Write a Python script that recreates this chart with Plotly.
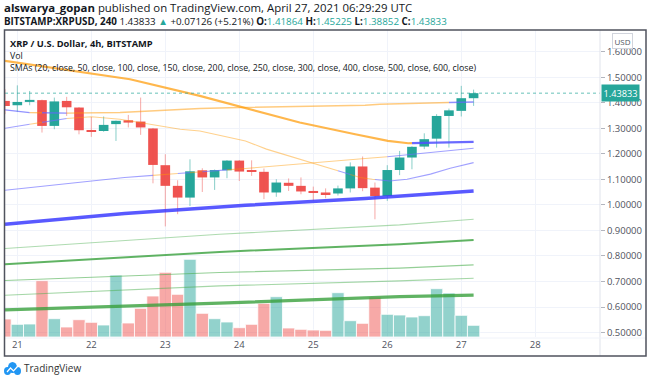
import numpy as np
import pandas as pd
import plotly.graph_objects as go

# ---------------- data ----------------
# candle index 0 = 2021-04-21 00:00; the first visible candle is index -1
index0_time = "2021-04-21 00:00"
candle_hours = 4
opens = [1.408, 1.391, 1.404, 1.411, 1.310, 1.408, 1.382, 1.294, 1.290, 1.317,
         1.332, 1.327, 1.300, 1.156, 1.075, 1.029, 1.136, 1.108, 1.136, 1.174,
         1.137, 1.130, 1.049, 1.087, 1.075, 1.055, 1.049, 1.045, 1.065, 1.151,
         1.068, 1.035, 1.137, 1.186, 1.229, 1.260, 1.349, 1.369, 1.41864]
highs = [1.454, 1.469, 1.447, 1.413, 1.421, 1.424, 1.384, 1.345, 1.347, 1.331,
         1.353, 1.421, 1.302, 1.199, 1.097, 1.179, 1.144, 1.139, 1.176, 1.176,
         1.175, 1.143, 1.101, 1.104, 1.108, 1.072, 1.065, 1.076, 1.167, 1.190,
         1.088, 1.156, 1.212, 1.230, 1.281, 1.356, 1.378, 1.467, 1.45225]
lows = [1.356, 1.365, 1.391, 1.284, 1.297, 1.349, 1.277, 1.267, 1.287, 1.251,
        1.304, 1.275, 1.085, 0.916, 0.964, 0.996, 1.051, 1.059, 1.105, 1.094,
        1.114, 1.023, 1.032, 1.055, 1.042, 1.016, 1.026, 1.037, 1.049, 1.054,
        0.944, 1.016, 1.117, 1.140, 1.219, 1.225, 1.225, 1.347, 1.38852]
closes = [1.388, 1.404, 1.412, 1.310, 1.406, 1.383, 1.293, 1.286, 1.314, 1.330,
          1.323, 1.304, 1.157, 1.075, 1.029, 1.132, 1.108, 1.137, 1.174, 1.131,
          1.130, 1.049, 1.088, 1.075, 1.053, 1.047, 1.043, 1.065, 1.151, 1.066,
          1.035, 1.137, 1.186, 1.228, 1.258, 1.349, 1.371, 1.41864, 1.43833]
volumes = [18.0, 12.7, 13.0, 56.3, 18.3, 10.0, 17.3, 14.7, 12.0, 62.0,
           14.0, 28.7, 41.0, 64.7, 42.7, 77.7, 23.7, 18.3, 15.0, 9.3,
           12.7, 33.7, 40.3, 9.0, 7.7, 7.0, 6.7, 44.3, 16.3, 13.7,
           40.0, 22.7, 22.0, 20.0, 21.3, 48.3, 44.0, 21.7, 11.7]

# SMA readings: positions in candle units (0 = Apr 21 00:00), values in USD,
# and runs where the close is above/below the average
sma20_pos = [-1, 4, 6, 8.33, 13.2, 14.8, 18.5, 20.2, 25.6, 27.8, 28.8, 30.2, 31.6, 33.5, 35.1, 37]
sma20_val = [1.301, 1.339, 1.346, 1.336, 1.297, 1.290, 1.251, 1.219, 1.140, 1.108, 1.101, 1.094, 1.101, 1.121, 1.144, 1.166]
sma20_runs = [(-1, 1, "above"), (1, 2, "below"), (2, 4, "above"), (4, 26, "below"),
              (26, 27, "above"), (27, 29, "below"), (29, 37, "above")]

sma50_pos = [-1, 9.14, 14.8, 22.9, 27.4, 30.05, 31.7, 37]
sma50_val = [1.5647, 1.493, 1.4275, 1.3232, 1.2774, 1.251, 1.242, 1.247]
sma50_runs = [(-1, 32, "below"), (32, 37, "above")]

sma100_pos = [-1, 1, 4, 8.33, 14.8, 18, 28.2, 29.4, 35, 37]
sma100_val = [1.373, 1.362, 1.360, 1.3624, 1.378, 1.382, 1.391, 1.395, 1.4016, 1.404]
sma100_runs = [(-1, 1, "above"), (1, 2, "below"), (2, 4, "above"), (4, 35, "below"), (35, 37, "above")]

sma150_pos = [-1, 8.7, 18.5, 28.2, 30.2, 37]
sma150_val = [1.058, 1.108, 1.143, 1.182, 1.190, 1.2225]
sma150_runs = [(-1, 11, "above"), (11, 13, "below"), (13, 14, "above"), (14, 15, "below"),
               (15, 17, "above"), (17, 30, "below"), (30, 37, "above")]

sma200_pos = [-1, 8.7, 18.5, 28.2, 37]
sma200_val = [0.9246, 0.9665, 0.999, 1.0253, 1.0551]

long_pos = [-1, 16.4, 31.0, 37]
sma250_val = [0.8293, 0.8854, 0.9218, 0.9442]
sma300_val = [0.7678, 0.8160, 0.8462, 0.8630]
sma400_val = [0.7039, 0.7352, 0.7521, 0.7650]
sma500_val = [0.6463, 0.6827, 0.7023, 0.7129]
sma600_val = [0.5886, 0.6149, 0.6404, 0.6463]

price_ticks = [0.5, 0.6, 0.7, 0.8, 0.9, 1.0, 1.1, 1.2, 1.3, 1.4, 1.5, 1.6]
last_price = 1.43833

# ---------------- helpers ----------------
t0 = pd.Timestamp(index0_time)
def tpos(i):
    return t0 + pd.Timedelta(hours=candle_hours * i)

n = len(opens)
times = [tpos(i - 1) for i in range(n)]
UP, DN = "#26a69a", "#ef5350"

fig = go.Figure()

# volume (base axis)
vol_colors = ["rgba(38,166,154,0.5)" if c >= o else "rgba(239,83,80,0.5)" for o, c in zip(opens, closes)]
fig.add_trace(go.Bar(x=times, y=volumes, marker=dict(color=vol_colors, line=dict(color="white", width=0.8)),
                     width=candle_hours * 3600e3, yaxis="y", hoverinfo="skip"))

# wicks
for up in (True, False):
    xs, ys = [], []
    for t, o, h, l, c in zip(times, opens, highs, lows, closes):
        if (c >= o) == up:
            xs += [t, t, None]
            ys += [l, h, None]
    fig.add_trace(go.Scatter(x=xs, y=ys, mode="lines", yaxis="y2", hoverinfo="skip",
                             line=dict(color="rgba(38,166,154,0.55)" if up else "rgba(239,83,80,0.5)", width=1)))

# bodies
body_base = [min(o, c) for o, c in zip(opens, closes)]
body_h = [max(abs(c - o), 0.004) for o, c in zip(opens, closes)]
body_col = [UP if c >= o else DN for o, c in zip(opens, closes)]
fig.add_trace(go.Bar(x=times, y=body_h, base=body_base, yaxis="y2", width=candle_hours * 3600e3 * 0.78,
                     marker=dict(color=body_col, line=dict(width=0)), hoverinfo="skip"))

# SMA lines
def add_sma(pos, val, runs, styles, name):
    for state, (color, width) in styles.items():
        xs, ys = [], []
        for a, b, st in runs:
            if st != state:
                continue
            px_ = [a] + [p for p in pos if a < p < b] + [b]
            py_ = np.interp(px_, pos, val)
            xs += [tpos(p) for p in px_] + [None]
            ys += list(py_) + [None]
        if xs:
            fig.add_trace(go.Scatter(x=xs, y=ys, mode="lines", yaxis="y2", name=name, hoverinfo="skip",
                                     line=dict(color=color, width=width)))

thin_styles = {"above": ("rgba(110,110,255,0.65)", 1.1), "below": ("rgba(255,152,0,0.45)", 1.1)}
add_sma(sma20_pos, sma20_val, sma20_runs, thin_styles, "SMA 20")
add_sma(sma150_pos, sma150_val, sma150_runs, thin_styles, "SMA 150")
add_sma(sma100_pos, sma100_val, sma100_runs,
        {"above": ("rgba(100,100,255,0.7)", 1.4), "below": ("rgba(255,152,0,0.5)", 1.4)}, "SMA 100")
add_sma(sma50_pos, sma50_val, sma50_runs,
        {"above": ("rgba(80,80,255,0.85)", 2.2), "below": ("rgba(255,152,0,0.7)", 2.2)}, "SMA 50")
add_sma(sma200_pos, sma200_val, [(-1, 37, "above")], {"above": ("rgba(60,60,255,0.85)", 3.5)}, "SMA 200")

green_specs = [(sma250_val, "rgba(76,175,80,0.45)", 1.1), (sma300_val, "rgba(56,160,60,0.8)", 2.0),
               (sma400_val, "rgba(76,175,80,0.6)", 1.2), (sma500_val, "rgba(76,175,80,0.5)", 1.1),
               (sma600_val, "rgba(56,160,60,0.8)", 3.2)]
for vals, col, w in green_specs:
    add_sma(long_pos, vals, [(-1, 37, "above")], {"above": (col, w)}, "SMA long")

# ---------------- layout ----------------
PL, PR, PT, PB = 5, 600, 30, 337
def pxp(x):
    return (x - PL) / (PR - PL)
def pyp(y):
    return (PB - y) / (PB - PT)

FONT = "Open Sans"
TXT = "#131722"
GRID = "#f0f3fa"

fig.update_layout(
    template="none",
    width=650, height=382, margin=dict(l=PL, r=650 - PR, t=PT, b=382 - PB, autoexpand=False),
    paper_bgcolor="white", plot_bgcolor="white", showlegend=False, barmode="overlay",
    font=dict(family=FONT, color=TXT),
    xaxis=dict(type="date", range=[tpos(-1), tpos(47.25)], tickformat="%d", dtick=86400000,
               tick0="2021-04-21", showgrid=True, gridcolor=GRID, gridwidth=1, ticks="",
               tickfont=dict(size=9.5, color="#50535e"), zeroline=False, showline=False,
               automargin=False, fixedrange=True),
    yaxis=dict(range=[0, PB - PT], visible=False, showgrid=False, automargin=False, fixedrange=True),
    yaxis2=dict(overlaying="y", side="right", anchor="x", range=[0.4824, 1.686],
                tickvals=price_ticks, tickformat=".5f", showgrid=True, gridcolor=GRID,
                ticks="outside", ticklen=4, tickcolor="#b2b5be", automargin=False,
                tickfont=dict(size=9.5, color="#50535e"), zeroline=False, showline=False),
)

shapes = []
# current price dotted line
shapes.append(dict(type="line", xref="paper", x0=0, x1=1, yref="y2", y0=last_price, y1=last_price,
                   line=dict(color="rgba(38,166,154,0.7)", width=1, dash="dot")))
# separators
shapes.append(dict(type="line", xref="paper", x0=1, x1=1, yref="paper", y0=pyp(356), y1=1,
                   line=dict(color="#e0e3eb", width=1)))
shapes.append(dict(type="line", xref="paper", x0=0, x1=pxp(646), yref="paper", y0=pyp(338), y1=pyp(338),
                   line=dict(color="#f0f3fa", width=1)))
# outer frame
shapes.append(dict(type="rect", xref="paper", yref="paper", x0=pxp(4.5), x1=pxp(646), y0=pyp(356), y1=pyp(30),
                   line=dict(color="#50535e", width=1.5), fillcolor="rgba(0,0,0,0)"))
# TradingView logo (decoration)
shapes.append(dict(type="circle", xref="paper", yref="paper", x0=pxp(8), x1=pxp(17), y0=pyp(373), y1=pyp(362),
                   fillcolor="#2196f3", line=dict(width=0)))
shapes.append(dict(type="circle", xref="paper", yref="paper", x0=pxp(4), x1=pxp(11), y0=pyp(375), y1=pyp(367),
                   fillcolor="#2196f3", line=dict(width=0)))
shapes.append(dict(type="circle", xref="paper", yref="paper", x0=pxp(14), x1=pxp(21), y0=pyp(375), y1=pyp(367),
                   fillcolor="#2196f3", line=dict(width=0)))
shapes.append(dict(type="path", xref="paper", yref="paper",
                   path=f"M {pxp(7)} {pyp(372)} L {pxp(10.5)} {pyp(368)} L {pxp(13.5)} {pyp(371)} L {pxp(18)} {pyp(366)}",
                   line=dict(color="white", width=1.2)))
fig.update_layout(shapes=shapes)

teal = UP
ann = []
def add_text(x, y, text, size=10, color=TXT, **kw):
    ann.append(dict(xref="paper", yref="paper", x=pxp(x), y=pyp(y), text=text, showarrow=False,
                    xanchor="left", yanchor="middle", font=dict(size=size, color=color, family=FONT), **kw))

add_text(2, 8, "<b>alswarya_gopan</b> published on TradingView.com, April 27, 2021 06:29:29 UTC", size=11.4)
add_text(2, 22, "<b>BITSTAMP:XRPUSD, 240</b> 1.43833 <span style='color:%s'>▲</span> +0.07126 (+5.21%%) "
                "<b>O:</b><span style='color:%s'>1.41864</span> <b>H:</b><span style='color:%s'>1.45225</span> "
                "<b>L:</b><span style='color:%s'>1.38852</span> <b>C:</b><span style='color:%s'>1.43833</span>"
                % (teal, teal, teal, teal, teal), size=9.8)
add_text(8, 43, "<b>XRP / U.S. Dollar, 4h, BITSTAMP</b>", size=9.3)
add_text(8, 56, "Vol", size=8.8)
add_text(8, 68, "SMAs (20, close, 50, close, 100, close, 150, close, 200, close, 250, close, 300, close, "
                "400, close, 500, close, 600, close)", size=8.8)
add_text(22, 368, "TradingView", size=10, color="#333333")
# USD box
ann.append(dict(xref="paper", yref="paper", x=pxp(622), y=pyp(40.5), text="USD", showarrow=False,
                xanchor="center", yanchor="middle", font=dict(size=8, color="#50535e", family=FONT),
                bordercolor="#d1d4dc", borderwidth=1, borderpad=1.5, bgcolor="white"))
# last price label
ann.append(dict(xref="paper", yref="y2", x=1, y=last_price, text="%.5f" % last_price, showarrow=False,
                xanchor="left", yanchor="middle", xshift=1, font=dict(size=9.2, color="white", family=FONT),
                bgcolor=teal, borderpad=1.5))
fig.update_layout(annotations=ann)

fig.write_html("out.html", config={"displayModeBar": False},
               post_script="document.body.style.margin='0';document.body.style.overflow='hidden';")
